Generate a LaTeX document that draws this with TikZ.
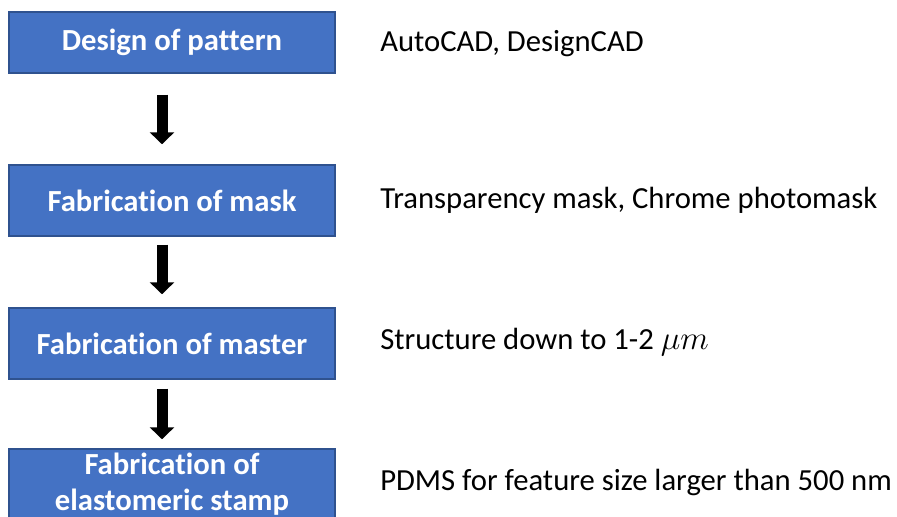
\documentclass[tikz,border=0pt]{standalone}
\usepackage{fontspec}
\setmainfont[Ligatures={NoCommon}]{Carlito}
\usetikzlibrary{arrows.meta}
\definecolor{boxblue}{HTML}{4472C4}
\definecolor{boxedge}{HTML}{2F528F}
\begin{document}
\begin{tikzpicture}[x=0.75pt,y=-0.75pt]
	\tikzstyle{step1}=[draw=boxedge,line width=1.1pt,fill=boxblue,text=white,font=\fontsize{23}{27}\selectfont\bfseries,minimum width=244.5pt,minimum height=53.25pt,align=center,inner sep=0pt];
	\tikzstyle{note}=[anchor=west,font=\fontsize{23}{27}\selectfont,inner sep=0pt];
	\tikzstyle{down}=[-{Triangle[width=18pt,length=9pt]},line width=8.25pt];

	\useasboundingbox (0,0) rectangle (897,517);
	\clip (0,0) rectangle (897,517);

	\node[step1,minimum height=45.75pt] (pattern) at (172,42.5) {Design of pattern};
	\node[step1] (mask)    at (172,200.5) {Fabrication of mask};
	\node[step1] (master)  at (172,343.5) {Fabrication of master};
	\node[step1] (stamp)   at (172,484.5) {Fabrication of\\elastomeric stamp};

	\node[note] (t1) at (380,44)  {AutoCAD, DesignCAD};
	\node[note] (t2) at (380,200) {Transparency mask, Chrome photomask};
	\node[note] (t3) at (380,342) {Structure down to 1-2 $\mu m$};
	\node[note] (t4) at (380,482) {PDMS for feature size larger than 500 nm};

	\draw[down,shorten <=15.75pt,shorten >=15pt] ([xshift=-7.5pt]pattern.south) -- ([xshift=-7.5pt]mask.north);
	\draw[down,shorten <=6pt,shorten >=9.75pt]   ([xshift=-7.5pt]mask.south) -- ([xshift=-7.5pt]master.north);
	\draw[down,shorten <=6.75pt,shorten >=6.75pt] ([xshift=-7.5pt]master.south) -- ([xshift=-7.5pt]stamp.north);
\end{tikzpicture}
\end{document}
